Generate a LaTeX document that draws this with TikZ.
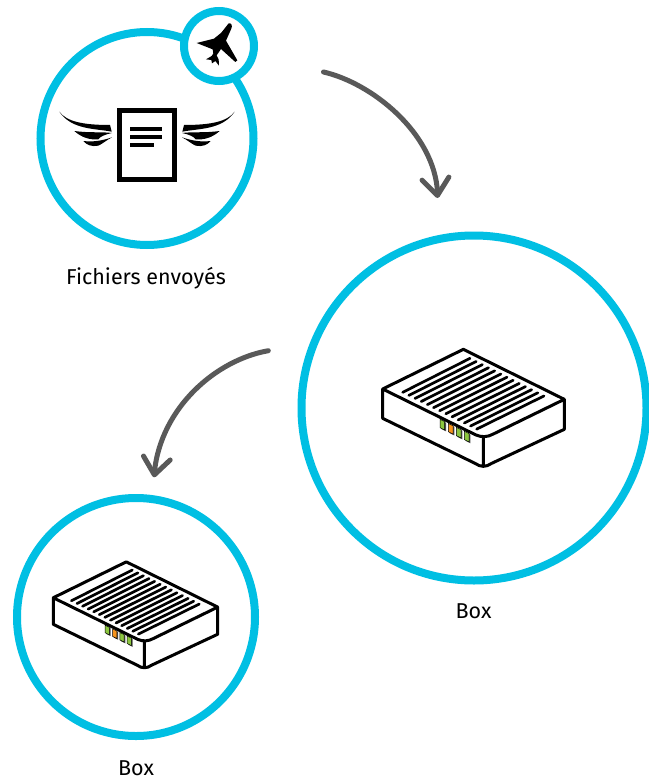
\documentclass[tikz,border=0pt]{standalone}
\usepackage{fontspec}
\setmainfont{Fira Sans}
\usetikzlibrary{arrows.meta,bending}
\definecolor{ringblue}{HTML}{00BFE3}
\definecolor{arrowgrey}{HTML}{595959}
\definecolor{ledgreen}{HTML}{8CC63F}
\definecolor{ledorange}{HTML}{F7941D}
\tikzset{
  ring/.style={circle,draw=ringblue,line width=8pt,fill=white,inner sep=0pt},
  label text/.style={font=\fontsize{21.5}{26}\selectfont,text=black,inner sep=0pt,anchor=base},
  flow/.style={draw=arrowgrey,line width=5pt,line cap=round,-{Straight Barb[length=17pt,width=27pt,round,flex'=1]}},
  led/.style={line width=0.5pt,draw=black},
}
\newcommand{\modem}{%
  \fill[white] (38,147) -- (280,28) -- (583,178) -- (583,268) -- (365,370) .. controls (340,382) .. (315,370) -- (38,235) -- cycle;
  \foreach \i in {0,...,12}{
    \draw[line width=2.7pt,line cap=round,black] ({98+18.5*\i},{157+9.2*\i}) -- ({300+18.5*\i},{55+9.4*\i});
  }
  \draw[line width=3pt,line join=round,line cap=round,black]
    (38,147) -- (280,28) -- (583,178) -- (370,282) .. controls (352,292) and (335,292) .. (318,285) -- cycle
    (38,147) -- (38,235) -- (315,370) .. controls (332,382) and (348,382) .. (365,370) -- (583,268) -- (583,178)
    (340,290) -- (340,378);
  \foreach \x/\c in {210/ledgreen,235/ledorange,259/ledgreen,283/ledgreen}{
    \pgfmathsetmacro{\yy}{238+(\x-210)*0.49}
    \fill[black!70] ({\x+4},{\yy+3}) -- ++(14,7) -- ++(0,26) -- ++(-14,-7) -- cycle;
    \filldraw[led,fill=\c] (\x,\yy) -- ++(14,7) -- ++(0,25) -- ++(-14,-7) -- cycle;
  }
}
\newcommand{\wing}{%
  \fill[black] (13,20) .. controls (35,50) and (85,60) .. (165,60) .. controls (168,68) .. (170,80)
    .. controls (120,70) and (50,75) .. (13,20) -- cycle;
  \fill[black] (58,78) .. controls (100,84) and (140,80) .. (171,84) .. controls (150,88) and (135,95) .. (130,103)
    .. controls (105,105) and (80,98) .. (58,78) -- cycle;
  \fill[black] (85,108) .. controls (115,112) and (145,106) .. (171,97) .. controls (155,105) and (140,118) .. (130,122)
    .. controls (110,126) and (95,120) .. (85,108) -- cycle;
}
\begin{document}
\begin{tikzpicture}[x=1pt,y=-1pt]
\useasboundingbox (0,0) rectangle (648,779);
% rings
\node[ring,minimum size=213pt] (sent) at (147,138.5) {};
\node[ring,minimum size=70pt] (plane) at (219,46) {};
\node[ring,minimum size=345pt] (box1) at (474,408) {};
\node[ring,minimum size=238pt] (box2) at (136,617) {};
% labels
\node[label text] (sentlabel) at (146,284) {Fichiers envoyés};
\node[label text] (box1label) at (473.5,618) {Box};
\node[label text] (box2label) at (136,775) {Box};
% document
\node[draw=black,line width=4.5pt,minimum width=55pt,minimum height=69pt,inner sep=0pt] (doc) at (147,145) {};
\draw[black,line width=4pt] (130,129) -- (162,129) (130,137) -- (162,137) (130,145) -- (154,145);
% wings
\begin{scope}[shift={(55,105)},scale=1/3]\wing\end{scope}
\begin{scope}[shift={(239,105)},xscale=-1/3,yscale=1/3]\wing\end{scope}
% plane
\begin{scope}[shift={(30,0)},scale=1/3]
\fill[black] (596,70) .. controls (604,68) and (608,76) .. (604,86) -- (588,122)
  -- (622,181) -- (616,186) -- (573,147) -- (560,166) -- (566,178) -- (567,197) -- (556,183)
  -- (546,190) -- (544,180) -- (528,178) -- (545,168) -- (550,160) -- (548,148) -- (500,129) -- (552,116) -- (574,98)
  -- cycle;
\end{scope}
% boxes
\begin{scope}[shift={(370,340)},scale=1/3]\modem\end{scope}
\begin{scope}[shift={(41.8,553.4)},scale=0.3017]\modem\end{scope}
% connectors
\coordinate (a1s) at (323.5,72);
\coordinate (a1e) at (437.7,198);
\coordinate (a2s) at (268.3,350.7);
\coordinate (a2e) at (154,477.3);
\draw[flow] (a1s) .. controls (372,83) and (438,135) .. (a1e);
\draw[flow] (a2s) .. controls (215,360) and (158,410) .. (a2e);
\end{tikzpicture}
\end{document}
